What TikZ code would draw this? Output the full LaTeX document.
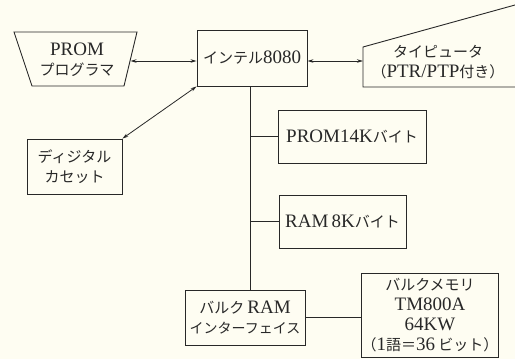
\documentclass[tikz,border=0pt]{standalone}
\usepackage{fontspec}
\setmainfont{Liberation Serif}
\newfontfamily\jp{Noto Sans CJK JP}
\usetikzlibrary{arrows.meta}
\definecolor{paper}{RGB}{254,253,242}
\definecolor{ink}{RGB}{40,40,40}
\newcommand\jtxt[1]{{\jp\fontsize{15}{19}\selectfont #1}}
\newcommand\jsmall[1]{{\jp\fontsize{14}{19}\selectfont #1}}
\begin{document}
\begin{tikzpicture}[x=1pt,y=-1pt,
  font=\fontsize{19}{20}\selectfont, text=ink,
  box/.style={draw=ink,line width=0.9pt,inner sep=0pt,align=center},
  plain/.style={inner sep=0pt,align=center},
  shapeline/.style={draw=ink,line width=0.9pt},
  link/.style={draw=ink,line width=0.8pt},
  biarrow/.style={link,{Stealth[length=6pt,width=3.5pt]}-{Stealth[length=6pt,width=3.5pt]}}]
\fill[paper] (0,0) rectangle (515,359);
\useasboundingbox (0,0) rectangle (515,359);

% PROM programmer (trapezoid)
\draw[shapeline] (14,32) -- (137,32) -- (124,86) -- (32,86) -- cycle;
\node[plain] (prog) at (77,60) {PROM\\\jtxt{プログラマ}};
\coordinate (progR) at (130.5,61);

% Intel 8080
\node[box,minimum width=110pt,minimum height=56pt] (intel) at (252,58) {\jtxt{インテル}8080};

% typewriter
\draw[shapeline] (515,5) -- (363,47) -- (363,87) -- (515,87);
\node[plain] (tw) at (438,62) {\jtxt{タイピュータ}\\\jtxt{（}PTR/PTP\jtxt{付き）}};
\coordinate (twL) at (363,61);

% digital cassette
\node[box,minimum width=95pt,minimum height=55pt] (cass) at (74.5,166.5) {\jtxt{ディジタル}\\\jtxt{カセット}};

% memories
\node[box,minimum width=148pt,minimum height=53pt] (prom14) at (352,136.5) {PROM14K\jtxt{バイト}};
\node[box,minimum width=127pt,minimum height=53pt] (ram8) at (342.5,221.5) {RAM\,8K\jtxt{バイト}};
\node[box,minimum width=120pt,minimum height=55pt] (bulkif) at (245,317.5) {\jtxt{バルク}\,RAM\\\jsmall{インターフェイス}};
\node[box,minimum width=134pt,minimum height=84pt] (tm) at (430,315) {\jtxt{バルクメモリ}\\TM800A\\64KW\\\jtxt{（}1\jtxt{語＝}36\,\jtxt{ビット）}};

% connectors
\draw[biarrow] (progR) -- (intel.west |- progR);
\draw[biarrow] (intel.east |- progR) -- (twL);
\draw[biarrow] (cass.north east) -- (intel.south west);
\coordinate (bx) at (250,0);
\draw[link] (intel.south -| bx) -- (bulkif.north -| bx);
\draw[link] (prom14.west -| bx) -- (prom14.west);
\draw[link] (ram8.west -| bx) -- (ram8.west);
\draw[link] (bulkif.east) -- (tm.west |- bulkif.east);
\end{tikzpicture}
\end{document}
